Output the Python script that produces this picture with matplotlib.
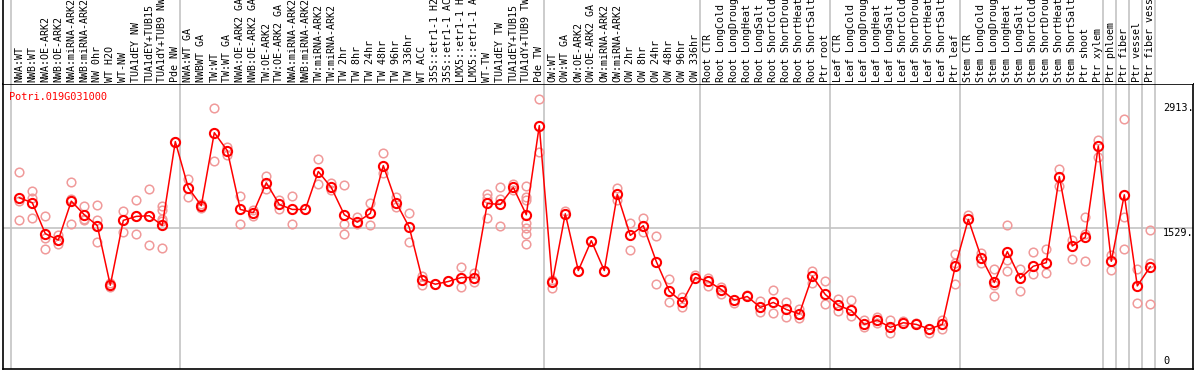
import matplotlib
matplotlib.use("Agg")
import matplotlib.pyplot as plt
import numpy as np

gene = "Potri.019G031000"

samples = [
    "NWA:WT", "NWB:WT", "NWA:OE-ARK2", "NWB:OE-ARK2", "NWA:miRNA-ARK2", "NWB:miRNA-ARK2",
    "NW 0hr", "WT H2O", "WT-NW", "TUA1dEY NW", "TUA1dEY+TUB15", "TUA1dY+TUB9 NW", "Pde NW",
    "NWA:WT GA", "NWBWT GA", "TW:WT", "TW:WT GA", "NWA:OE-ARK2 GA", "NWB:OE-ARK2 GA",
    "TW:OE-ARK2", "TW:OE-ARK2 GA", "NWA:miRNA-ARK2", "NWB:miRNA-ARK2", "TW:miRNA-ARK2",
    "TW:miRNA-ARK2", "TW 2hr", "TW 8hr", "TW 24hr", "TW 48hr", "TW 96hr", "TW 336hr",
    "WT ACC", "35S::etr1-1 H2", "35S::etr1-1 AC", "LMX5::etr1-1 H", "LMX5::etr1-1 A",
    "WT-TW", "TUA1dEY TW", "TUA1dEY+TUB15", "TUA1dY+TUB9 TW", "Pde TW",
    "OW:WT", "OW:WT GA", "OW:OE-ARK2", "OW:OE-ARK2 GA", "OW:miRNA-ARK2", "OW:miRNA-ARK2",
    "OW 2hr", "OW 8hr", "OW 24hr", "OW 48hr", "OW 96hr", "OW 336hr",
    "Root CTR", "Root LongCold", "Root LongDroug", "Root LongHeat", "Root LongSalt",
    "Root ShortCold", "Root ShortDrou", "Root ShortHeat", "Root ShortSalt", "Ptr root",
    "Leaf CTR", "Leaf LongCold", "Leaf LongDroug", "Leaf LongHeat", "Leaf LongSalt",
    "Leaf ShortCold", "Leaf ShortDrou", "Leaf ShortHeat", "Leaf ShortSalt", "Ptr leaf",
    "Stem CTR", "Stem LongCold", "Stem LongDroug", "Stem LongHeat", "Stem LongSalt",
    "Stem ShortCold", "Stem ShortDrou", "Stem ShortHeat", "Stem ShortSalt", "Ptr shoot",
    "Ptr xylem", "Ptr phloem", "Ptr fiber", "Ptr vessel", "Ptr fiber vess",
]

group_sizes = [13, 28, 12, 10, 10, 11, 1, 1, 1, 1]

means = [
    1867, 1812, 1470, 1399, 1830, 1679, 1558, 899, 1617, 1661, 1668, 1561, 2489,
    1978, 1779, 2588, 2389, 1738, 1702, 2033, 1793, 1738, 1738, 2158, 1981, 1679,
    1598, 1694, 2224, 1812, 1539, 962, 910, 940, 984, 984, 1804, 1793, 1981, 1679, 2666,
    929, 1690, 1061, 1392, 1061, 1904, 1451, 1558, 1161, 833, 711, 984,
    943, 851, 733, 774, 653, 708, 630, 582, 998, 796,
    675, 619, 465, 512, 432, 483, 465, 413, 465, 1109,
    1628, 1205, 929, 1271, 976, 1109, 1149, 2102, 1333, 1429, 2441,
    1164, 1900, 891, 1105,
]

replicates = [
    [2154, 1830, 1624], [1940, 1867, 1646], [1668, 1421, 1304], [1451, 1396, 1359],
    [2044, 1859, 1580], [1779, 1635, 1617], [1790, 1624, 1558, 1377], [924, 880],
    [1716, 1617, 1492], [1845, 1661, 1470], [1967, 1668, 1348],
    [1779, 1735, 1635, 1609, 1315], [2489],
    [2077, 1874], [1801, 1757], [2861, 2279], [2426, 2342], [1889, 1580], [1735, 1661],
    [2106, 1962], [1845, 1741], [1889, 1572], [1738], [2298, 2022], [2033, 1948],
    [2011, 1580, 1470], [1653, 1580], [1804, 1569], [2364, 2143], [1874, 1763],
    [1702, 1381], [1002, 899], [907], [946], [1101, 884], [1035, 935],
    [1907, 1867, 1646], [1981, 1852, 1558], [2022, 1948],
    [2000, 1874, 1837, 1587, 1536, 1462, 1352], [2960, 2375],
    [869, 954], [1719], [1061], [1392], [1061], [1978, 1837], [1591, 1293],
    [1646, 1487], [1440, 910], [973, 711], [770, 659], [1009],
    [979, 888], [880, 807], [703], [792], [722, 597], [851, 593], [711, 549],
    [630, 538], [1053, 918], [940, 686],
    [748, 615], [730, 560], [512, 432], [549, 476], [512, 365], [505], [483],
    [372], [512, 410], [1249, 1149, 907],
    [1671], [1260, 1149], [1083, 899, 774], [1569, 1183, 1057], [1083, 840],
    [1271, 1028], [1304, 1039], [2187, 2003], [1396, 1194], [1650, 1470, 1167],
    [2511, 2316],
    [1230, 1072], [2740, 1650, 1304], [1083, 697], [1506, 1149, 686],
]

ytick_values = [2913, 1529, 0]
ytick_labels = ["2913.", "1529.", "0"]

W, H = 1194, 370
fig = plt.figure(figsize=(W / 100, H / 100), dpi=100)
fig.patch.set_facecolor("white")

mono = "DejaVu Sans Mono"
red = "#ff0000"
pink = "#f09a9a"
grid = "#c3c3c3"

x = np.arange(len(samples))
xlim = ((3 - 19.3) / 13, (1193 - 19.3) / 13)

ax = fig.add_axes([3 / W, 1 / H, 1190 / W, 285 / H])
ax.set_xlim(*xlim)
ax.set_ylim(-29, 3127)
ax.set_xticks([])
ax.set_yticks([])
for s in ax.spines.values():
    s.set_color("black")
    s.set_linewidth(1.2)

lab = fig.add_axes([3 / W, 286 / H, 1190 / W, 84 / H])
lab.set_xlim(*xlim)
lab.set_ylim(0, 84)
lab.set_xticks([])
lab.set_yticks([])
for k, s in lab.spines.items():
    s.set_visible(k == "left")
    s.set_linewidth(1.2)

# separators
bounds = np.concatenate([[0], np.cumsum(group_sizes)]) - 8 / 13
for b in bounds:
    ax.axvline(b, color=grid, lw=1.2, zorder=0)
    lab.axvline(b, color=grid, lw=1.2, zorder=0)

ax.axhline(ytick_values[1], color=grid, lw=1.2, zorder=0)

# replicates
rx = np.concatenate([[i] * len(r) for i, r in enumerate(replicates)])
ry = np.concatenate([np.array(r, float) for r in replicates])
ax.plot(rx, ry, ls="none", marker="o", ms=6.2, mfc="none", mec=pink, mew=1.1, zorder=2)

# mean line
ax.plot(x, means, color=red, lw=1.1, zorder=3)
ax.plot(x, means, ls="none", marker="o", ms=6.6, mfc="none", mec=red, mew=1.5, zorder=4)

# title
ax.text((9.3 - 3) / 1190, 1 - (96.7 - 84) / 285, gene, transform=ax.transAxes,
        color=red, fontsize=7.4, family=mono, ha="left", va="center")

# y tick labels
vas = ["top", "top", "bottom"]
for v, t, va in zip(ytick_values, ytick_labels, vas):
    ax.text((1163 - 3) / 1190, v, t, transform=ax.get_yaxis_transform(),
            fontsize=7.4, family=mono, ha="left", va=va, color="black")

# sample labels
for i, s in enumerate(samples):
    lab.text(i, 2, s, rotation=90, ha="center", va="bottom", fontsize=7.2,
             family=mono, color="black", clip_on=True)

fig.savefig("out.png", dpi=100, facecolor="white")
